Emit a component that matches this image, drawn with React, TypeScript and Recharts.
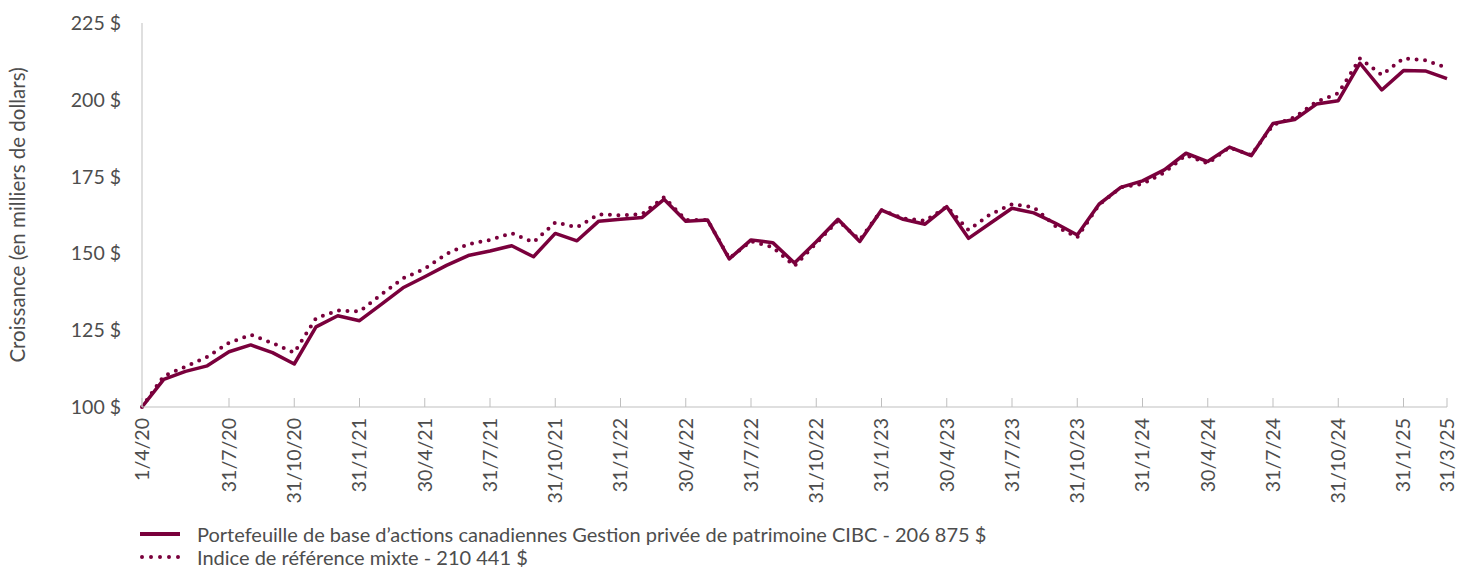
import { LineChart, Line, XAxis, YAxis, Legend, Label } from "recharts"

const dates = [
  "1/4/20", "30/4/20", "31/5/20", "30/6/20", "31/7/20", "31/8/20", "30/9/20", "31/10/20", "30/11/20", "31/12/20",
  "31/1/21", "28/2/21", "31/3/21", "30/4/21", "31/5/21", "30/6/21", "31/7/21", "31/8/21", "30/9/21", "31/10/21", "30/11/21", "31/12/21",
  "31/1/22", "28/2/22", "31/3/22", "30/4/22", "31/5/22", "30/6/22", "31/7/22", "31/8/22", "30/9/22", "31/10/22", "30/11/22", "31/12/22",
  "31/1/23", "28/2/23", "31/3/23", "30/4/23", "31/5/23", "30/6/23", "31/7/23", "31/8/23", "30/9/23", "31/10/23", "30/11/23", "31/12/23",
  "31/1/24", "29/2/24", "31/3/24", "30/4/24", "31/5/24", "30/6/24", "31/7/24", "31/8/24", "30/9/24", "31/10/24", "30/11/24", "31/12/24",
  "31/1/25", "28/2/25", "31/3/25",
]

// Portefeuille (ligne pleine)
const portfolio = [
  100, 109.0, 111.6, 113.4, 118.0, 120.2, 117.7, 114.0, 126.1, 129.7,
  128.1, 133.4, 138.8, 142.4, 146.1, 149.3, 150.8, 152.5, 148.9, 156.5, 154.1, 160.5,
  161.1, 161.7, 167.6, 160.5, 160.9, 148.2, 154.4, 153.5, 146.9, 153.8, 161.1, 153.9,
  164.1, 161.1, 159.5, 165.2, 154.9, 159.8, 164.7, 163.2, 159.8, 156.0, 166.0, 171.5,
  173.6, 177.2, 182.6, 179.9, 184.6, 181.8, 192.3, 193.6, 198.6, 199.7, 211.9, 203.2,
  209.5, 209.4, 206.875,
]

// Indice de référence mixte (pointillé)
const benchmark = [
  100, 110.1, 113.1, 116.3, 120.9, 123.5, 120.8, 117.7, 128.9, 131.4,
  131.1, 136.6, 141.9, 145.0, 149.8, 153.0, 154.4, 156.6, 153.6, 160.1, 158.5, 162.7,
  162.4, 162.8, 168.3, 160.9, 160.9, 148.4, 154.0, 152.0, 145.9, 153.3, 160.7, 154.4,
  164.1, 161.4, 160.6, 165.2, 157.6, 162.7, 166.0, 165.0, 158.9, 155.2, 165.8, 171.5,
  172.6, 176.3, 182.0, 179.3, 184.5, 182.0, 191.8, 194.3, 199.4, 202.1, 213.5, 208.1,
  213.5, 212.9, 210.441,
]

const tickLabels = [
  "1/4/20", "31/7/20", "31/10/20", "31/1/21", "30/4/21", "31/7/21", "31/10/21",
  "31/1/22", "30/4/22", "31/7/22", "31/10/22", "31/1/23", "30/4/23", "31/7/23",
  "31/10/23", "31/1/24", "30/4/24", "31/7/24", "31/10/24", "31/1/25", "31/3/25",
]

const yTicks = [100, 125, 150, 175, 200, 225]

const seriesNames = [
  "Portefeuille de base d’actions canadiennes Gestion privée de patrimoine CIBC - 206 875 $",
  "Indice de référence mixte - 210 441 $",
]

const COLOR = "#7a003c"
const AXIS = "#bfbfbf"
const TEXT = "#4d4d4d"
const FONT = "Lato, sans-serif"

const data = dates.map((d, i) => ({
  i,
  date: d,
  portfolio: portfolio[i],
  benchmark: benchmark[i],
}))

const tickIdx = tickLabels.map((t) => dates.indexOf(t))

const XTick = ({ x, y, payload }: any) => (
  <g>
    <line x1={x} x2={x} y1={y - 9} y2={y} stroke={AXIS} strokeWidth={1} />
    <text
      x={x}
      y={y + 11}
      dy="0.35em"
      textAnchor="end"
      transform={`rotate(-90, ${x}, ${y + 11})`}
      fill={TEXT}
      fontSize={19.5}
      fontFamily={FONT}
    >
      {dates[payload.value]}
    </text>
  </g>
)

const YLabel = ({ viewBox }: any) => {
  const cx = viewBox.x + 18
  const cy = viewBox.y + viewBox.height / 2
  return (
    <text
      x={cx}
      y={cy}
      dy="0.35em"
      textAnchor="middle"
      transform={`rotate(-90, ${cx}, ${cy})`}
      fill={TEXT}
      fontSize={20.5}
      fontFamily={FONT}
    >
      Croissance (en milliers de dollars)
    </text>
  )
}

const CustomLegend = () => (
  <div style={{ fontFamily: FONT, fontSize: 20, color: TEXT }}>
    <div style={{ display: "flex", alignItems: "center", height: 23 }}>
      <svg width={57} height={10}>
        <line x1={0} x2={40} y1={5} y2={5} stroke={COLOR} strokeWidth={4} />
      </svg>
      <span style={{ whiteSpace: "nowrap" }}>{seriesNames[0]}</span>
    </div>
    <div style={{ display: "flex", alignItems: "center", height: 23 }}>
      <svg width={57} height={10}>
        <line
          x1={2}
          x2={40}
          y1={5}
          y2={5}
          stroke={COLOR}
          strokeWidth={4}
          strokeDasharray="0 9"
          strokeLinecap="round"
        />
      </svg>
      <span style={{ whiteSpace: "nowrap" }}>{seriesNames[1]}</span>
    </div>
  </div>
)

export default function App() {
  return (
    <div style={{ position: "absolute", left: 0, top: 0, width: 1473, height: 567, background: "#fff" }}>
      <LineChart width={1473} height={567} data={data} margin={{ top: 23, right: 26, left: 0, bottom: 70 }}>
        <XAxis
          dataKey="i"
          type="number"
          domain={[0, 60]}
          ticks={tickIdx}
          interval={0}
          height={90}
          tickSize={0}
          tickMargin={0}
          tickLine={false}
          axisLine={{ stroke: AXIS }}
          tick={<XTick />}
        />
        <YAxis
          domain={[100, 225]}
          ticks={yTicks}
          width={142}
          tickLine={false}
          tickMargin={15}
          axisLine={{ stroke: AXIS }}
          tick={{ fill: TEXT, fontSize: 19.5, fontFamily: FONT }}
          tickFormatter={(v) => `${v} $`}
        >
          <Label content={<YLabel />} />
        </YAxis>
        <Legend
          layout="horizontal"
          verticalAlign="middle"
          align="center"
          content={<CustomLegend />}
          wrapperStyle={{ left: 140, top: 522, width: 1100 }}
        />
        <Line
          type="linear"
          dataKey="benchmark"
          name={seriesNames[1]}
          stroke={COLOR}
          strokeWidth={4}
          strokeDasharray="0 8.5"
          strokeLinecap="round"
          dot={false}
          isAnimationActive={false}
        />
        <Line
          type="linear"
          dataKey="portfolio"
          name={seriesNames[0]}
          stroke={COLOR}
          strokeWidth={3.5}
          strokeLinejoin="round"
          dot={false}
          isAnimationActive={false}
        />
      </LineChart>
    </div>
  )
}
